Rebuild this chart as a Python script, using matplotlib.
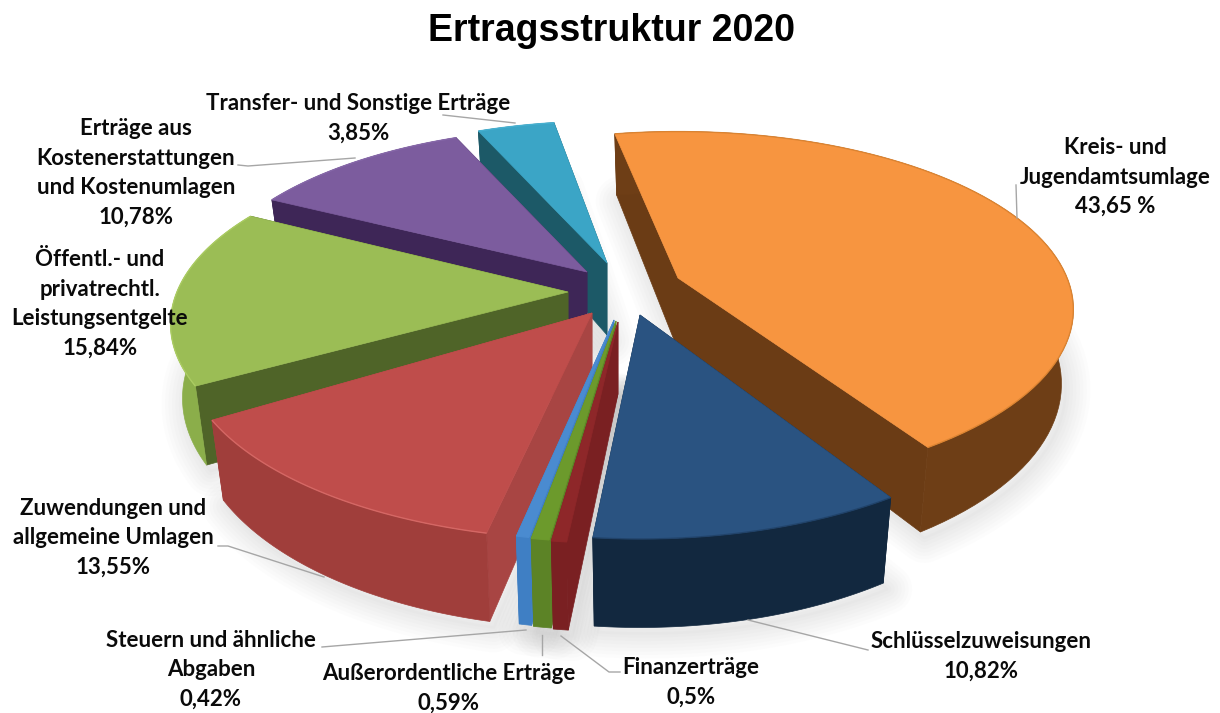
import numpy as np
import matplotlib
matplotlib.use('Agg')
import matplotlib.pyplot as plt
from matplotlib.patches import Polygon

# slices clockwise, starting with the big orange one
names = ['Kreis- und\nJugendamtsumlage', 'Schlüsselzuweisungen', 'Finanzerträge',
         'Außerordentliche Erträge', 'Steuern und ähnliche\nAbgaben',
         'Zuwendungen und\nallgemeine Umlagen', 'Öffentl.- und\nprivatrechtl.\nLeistungsentgelte',
         'Erträge aus\nKostenerstattungen\nund Kostenumlagen', 'Transfer- und Sonstige Erträge']
shares = [43.65, 10.82, 0.5, 0.59, 0.42, 13.55, 15.84, 10.78, 3.85]
share_text = ['43,65 %', '10,82%', '0,5%', '0,59%', '0,42%', '13,55%', '15,84%', '10,78%', '3,85%']

top_colors = ['#F79540', '#2A5381', '#8E2729', '#6C9A2C', '#4A8BD0', '#BF4D4B', '#9BBD55', '#7C5C9E', '#3BA5C6']
cut_colors = ['#6B3C15', '#12283F', '#7A2022', '#5C8326', '#3F7FC4', '#A84543', '#4F6428', '#3E2657', '#1C5967']
rim_colors = ['#6E3E16', '#12283F', '#7A2022', '#5C8326', '#3F7FC4', '#A03E3B', '#8BAE4A', '#3E2657', '#1C5967']
edge_colors = ['#D9822F', '#1F4066', '#8E2729', '#6C9A2C', '#4A8BD0', '#DB6E6B', '#AFD066', '#8A6BAD', '#4AB5D6']

# exploded apex of each slice (pixels), radius factor, and small angle corrections
apex_x = [678, 640, 618, 616, 614, 592, 568, 587, 607]
apex_y = [278, 315, 322, 321, 320, 313, 292, 272, 263]
radius = [0.985, 1.04, 1.03, 1.03, 1.03, 1.05, 0.99, 0.97, 0.95]
x_scale = [1.0, 0.96, 1.0, 1.0, 1.0, 0.97, 1.0, 1.0, 1.0]
trim_a = [0, 1.5, 0.8, 0.8, 0.8, 1.8, 1.0, 1.0, 1.5]
trim_b = [0.7, 0.5, 0.8, 0.8, 0.8, -1.0, 2.0, 1.5, 1.5]
draw_order = [0, 8, 7, 6, 5, 4, 3, 2, 1]

start = -11.0
rx, ry, k = 395.0, 175.0, 0.18
depth = 72.0
taper = 0.03


def project(i, r, theta, z=0.0):
    t = np.radians(theta)
    x = r * np.sin(t)
    y = -r * np.cos(t)
    s = 1.0 / (1.0 - k * y)
    dx = rx * x_scale[i] * x * s * (1.0 - taper * z)
    return np.column_stack([apex_x[i] + dx, apex_y[i] + ry * y * s + z * depth * s])


plt.rcParams['font.family'] = ['Lato', 'DejaVu Sans']
fig = plt.figure(figsize=(12.2, 7.13), dpi=100)
ax = fig.add_axes([0, 0, 1, 1])
ax.set_xlim(0, 1220)
ax.set_ylim(713, 0)
ax.axis('off')

edges = start + np.concatenate([[0], np.cumsum(shares)]) * 3.6

# soft shadow under the whole thing
for i in draw_order:
    th = np.linspace(edges[i] + trim_a[i], edges[i + 1] + trim_b[i], 60)
    base = project(i, radius[i], th, 1.0)
    pts = np.vstack([base, [[apex_x[i], apex_y[i] + depth]]]) + [4, 6]
    for lw in [36, 31, 26, 21, 16, 11, 6, 2]:
        ax.add_patch(Polygon(pts, closed=True, facecolor='none', edgecolor='#808080',
                             lw=lw, alpha=0.02, joinstyle='round', zorder=1))

z = 2
for i in draw_order:
    a, b = edges[i] + trim_a[i], edges[i + 1] + trim_b[i]
    r = radius[i]
    th = np.linspace(a, b, 80)
    c = [apex_x[i], apex_y[i]]
    d = [apex_x[i], apex_y[i] + depth]
    # the two cut faces
    for e in [b, a]:
        p = project(i, r, np.array([e]))[0]
        q = project(i, r, np.array([e]), 1.0)[0]
        ax.add_patch(Polygon([c, p, q, d], closed=True, facecolor=cut_colors[i],
                             edgecolor=cut_colors[i], lw=0.5, zorder=z))
    # outer wall
    up = project(i, r, th)
    lo = project(i, r, th, 1.0)
    ax.add_patch(Polygon(np.vstack([up, lo[::-1]]), closed=True, facecolor=rim_colors[i],
                         edgecolor=rim_colors[i], lw=0.5, zorder=z))
    # top face
    ax.add_patch(Polygon(np.vstack([[c], up]), closed=True, facecolor=top_colors[i],
                         edgecolor=top_colors[i], lw=0.5, zorder=z))
    ax.plot(up[:, 0], up[:, 1], color=edge_colors[i], lw=1.0, alpha=0.8, zorder=z,
            solid_capstyle='butt')
    z += 1

# leader lines
leaders = [([1016, 1017], [185, 218]),
           ([748, 868], [620, 650]),
           ([561, 609, 620], [636, 672, 672]),
           ([542, 542], [635, 655]),
           ([526, 322], [630, 647]),
           ([218, 228, 324], [546, 546, 577]),
           ([238, 248, 355], [165, 166, 158]),
           ([443, 515], [115, 123])]
for xs, ys in leaders:
    ax.plot(xs, ys, color='#A6A6A6', lw=1.0, zorder=50)

# label centres in pixels
label_x = [1115, 981, 691, 449, 211, 113, 100, 136, 358]
label_y = [177, 656, 682, 688, 670, 538, 304, 173, 118]
for i in range(len(names)):
    ax.text(label_x[i], label_y[i], names[i] + '\n' + share_text[i], ha='center', va='center',
            fontsize=16, fontweight='bold', color='#0A0A0A', linespacing=1.5, zorder=60)

ax.text(612, 31, 'Ertragsstruktur 2020', ha='center', va='center', fontsize=27,
        fontweight='bold', family=['Liberation Sans', 'DejaVu Sans'], color='black')

fig.savefig('out.png', dpi=100)
